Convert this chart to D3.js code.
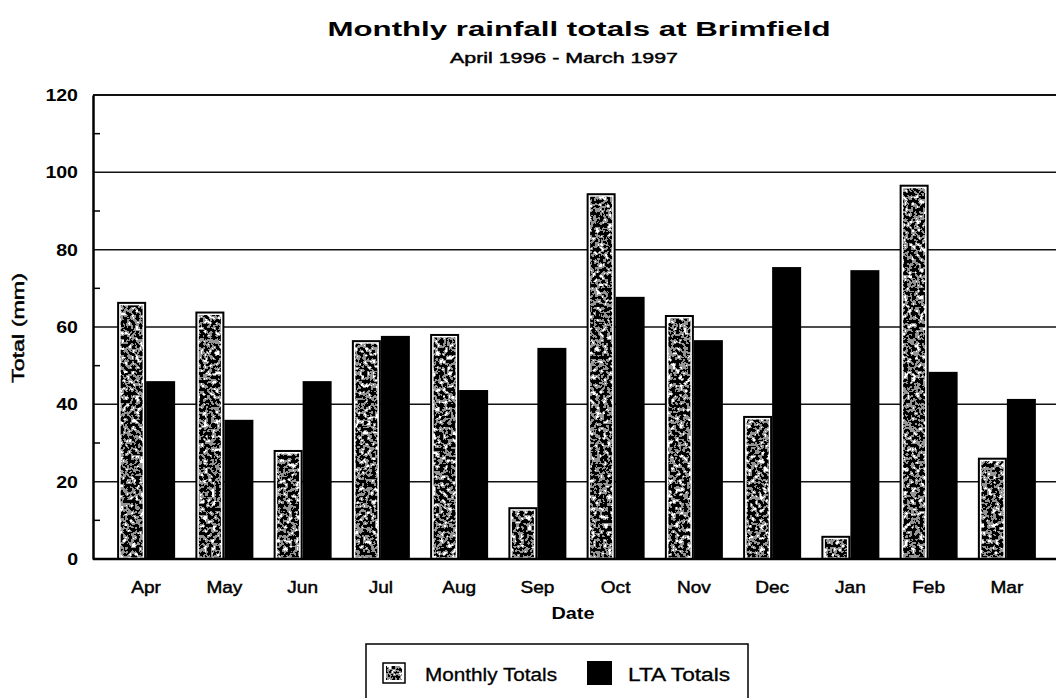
<!DOCTYPE html>
<html>
<head>
<meta charset="utf-8">
<script src="https://cdn.jsdelivr.net/npm/d3@7"></script>
<style>
  body { margin: 0; background: #fff; }
  text { font-family: "Liberation Sans", Arial, sans-serif; fill: #000; }
</style>
</head>
<body>
<svg id="chart"></svg>
<script>
// data
var months = ["Apr", "May", "Jun", "Jul", "Aug", "Sep", "Oct", "Nov", "Dec", "Jan", "Feb", "Mar"];
var monthlyTotals = [66.5, 64, 28.2, 56.6, 58.2, 13.4, 94.6, 63.1, 37, 6, 96.8, 26.2];
var ltaTotals = [46, 36, 46, 57.7, 43.7, 54.6, 67.8, 56.6, 75.5, 74.7, 48.4, 41.4];
var yTicks = [0, 20, 40, 60, 80, 100, 120];
var minorTicks = [10, 30, 50, 70, 90, 110];

var width = 1056, height = 698;
var padLeft = 93, padRight = 1060, plotTop = 95, plotBottom = 559;

var svg = d3.select("#chart").attr("width", width).attr("height", height);

// the scanned fonts are wider than Liberation, so stretch text to fit
function stretch(sel, factor) {
  sel.each(function () {
    var w = this.getComputedTextLength();
    d3.select(this).attr("textLength", w * factor).attr("lengthAdjust", "spacingAndGlyphs");
  });
}

// speckle filter for the monthly bars
var defs = svg.append("defs");
var f = defs.append("filter").attr("id", "speckle")
  .attr("x", 0).attr("y", 0).attr("width", 1).attr("height", 1);
f.append("feTurbulence").attr("type", "fractalNoise")
  .attr("baseFrequency", 0.25).attr("numOctaves", 2).attr("seed", 7).attr("result", "noise");
f.append("feColorMatrix").attr("in", "noise").attr("type", "matrix")
  .attr("values", "1 0 0 0 0  1 0 0 0 0  1 0 0 0 0  0 0 0 0 1").attr("result", "gray");
f.append("feComponentTransfer").attr("in", "gray").attr("result", "bw")
  .call(function (g) {
    ["feFuncR", "feFuncG", "feFuncB"].forEach(function (n) {
      g.append(n).attr("type", "discrete").attr("tableValues", "0 0 0 0.3 1 1");
    });
  });
f.append("feComposite").attr("in", "bw").attr("in2", "SourceGraphic").attr("operator", "in");

var x = d3.scaleBand().domain(months).range([107, 1046]);
var y = d3.scaleLinear().domain([0, 120]).range([plotBottom, plotTop]);
var barW = 29;

// gridlines
svg.append("g").selectAll("line")
  .data(yTicks.filter(function (d) { return d > 0; }))
  .enter().append("line")
  .attr("x1", padLeft).attr("x2", padRight)
  .attr("y1", function (d) { return y(d); })
  .attr("y2", function (d) { return y(d); })
  .attr("stroke", "#111").attr("stroke-width", function (d) { return d == 120 ? 2 : 1.5; });

// monthly bars: outline, white margin, speckled core
var mb = svg.append("g");
mb.selectAll("rect.edge")
  .data(monthlyTotals).enter().append("rect")
  .attr("class", "edge")
  .attr("x", function (d, i) { return x(months[i]) + x.bandwidth() / 2 - barW + 1; })
  .attr("y", function (d) { return y(d) + 1; })
  .attr("width", barW - 2)
  .attr("height", function (d) { return plotBottom - y(d) - 1; })
  .attr("fill", "#fff")
  .attr("stroke", "#000").attr("stroke-width", 2);
mb.selectAll("rect.fill")
  .data(monthlyTotals).enter().append("rect")
  .attr("class", "fill")
  .attr("x", function (d, i) { return x(months[i]) + x.bandwidth() / 2 - barW + 3.5; })
  .attr("y", function (d) { return y(d) + 3.5; })
  .attr("width", barW - 7)
  .attr("height", function (d) { return Math.max(0, plotBottom - y(d) - 5); })
  .attr("fill", "#000")
  .attr("filter", "url(#speckle)");

// LTA bars
svg.append("g").selectAll("rect")
  .data(ltaTotals).enter().append("rect")
  .attr("x", function (d, i) { return x(months[i]) + x.bandwidth() / 2; })
  .attr("y", function (d) { return y(d); })
  .attr("width", barW)
  .attr("height", function (d) { return plotBottom - y(d); })
  .attr("fill", "#000");

// axes
var yAxis = d3.axisLeft(y).tickValues(yTicks).tickSize(0).tickPadding(15);
var gy = svg.append("g").attr("transform", "translate(" + padLeft + ",0)").call(yAxis);
gy.select(".domain").attr("stroke", "#000").attr("stroke-width", 2.5);
gy.selectAll("text").attr("font-size", 17).attr("font-weight", "bold")
  .call(stretch, 1.15);

svg.append("g").selectAll("line")
  .data(minorTicks).enter().append("line")
  .attr("x1", padLeft).attr("x2", padLeft + 7)
  .attr("y1", function (d) { return y(d); })
  .attr("y2", function (d) { return y(d); })
  .attr("stroke", "#000").attr("stroke-width", 1.5);

var xAxis = d3.axisBottom(x).tickSize(0).tickPadding(22);
var gx = svg.append("g").attr("transform", "translate(0," + plotBottom + ")").call(xAxis);
gx.select(".domain").remove();
gx.selectAll("text").attr("font-size", 17)
  .attr("stroke", "#000").attr("stroke-width", 0.45)
  .call(stretch, 1.12);
svg.append("line").attr("x1", padLeft).attr("x2", padRight)
  .attr("y1", plotBottom).attr("y2", plotBottom)
  .attr("stroke", "#000").attr("stroke-width", 2.5);

// titles
svg.append("text").attr("x", 579).attr("y", 36).attr("text-anchor", "middle")
  .attr("font-size", 21).attr("font-weight", "bold")
  .attr("textLength", 503).attr("lengthAdjust", "spacingAndGlyphs")
  .text("Monthly rainfall totals at Brimfield");
svg.append("text").attr("x", 564).attr("y", 63).attr("text-anchor", "middle")
  .attr("font-size", 15).attr("stroke", "#000").attr("stroke-width", 0.45)
  .attr("textLength", 228).attr("lengthAdjust", "spacingAndGlyphs")
  .text("April 1996 - March 1997");
svg.append("text").attr("x", 573).attr("y", 619).attr("text-anchor", "middle")
  .attr("font-size", 16).attr("font-weight", "bold")
  .attr("textLength", 43).attr("lengthAdjust", "spacingAndGlyphs")
  .text("Date");
svg.append("text").attr("transform", "translate(24,328) rotate(-90)")
  .attr("text-anchor", "middle").attr("font-size", 16)
  .attr("stroke", "#000").attr("stroke-width", 0.45)
  .attr("textLength", 110).attr("lengthAdjust", "spacingAndGlyphs")
  .text("Total (mm)");

// legend
var lg = svg.append("g");
lg.append("rect").attr("x", 366).attr("y", 644).attr("width", 382).attr("height", 60)
  .attr("fill", "#fff").attr("stroke", "#000").attr("stroke-width", 1.5);
lg.append("rect").attr("x", 383).attr("y", 663).attr("width", 22).attr("height", 20)
  .attr("fill", "#fff").attr("stroke", "#000").attr("stroke-width", 1.5);
lg.append("rect").attr("x", 386).attr("y", 666).attr("width", 16).attr("height", 14)
  .attr("fill", "#000").attr("filter", "url(#speckle)");
lg.append("text").attr("x", 425).attr("y", 681).attr("font-size", 18)
  .attr("stroke", "#000").attr("stroke-width", 0.3)
  .attr("textLength", 132).attr("lengthAdjust", "spacingAndGlyphs")
  .text("Monthly Totals");
lg.append("rect").attr("x", 587).attr("y", 661).attr("width", 25).attr("height", 24).attr("fill", "#000");
lg.append("text").attr("x", 628).attr("y", 681).attr("font-size", 18)
  .attr("stroke", "#000").attr("stroke-width", 0.3)
  .attr("textLength", 102).attr("lengthAdjust", "spacingAndGlyphs")
  .text("LTA Totals");
</script>
</body>
</html>
